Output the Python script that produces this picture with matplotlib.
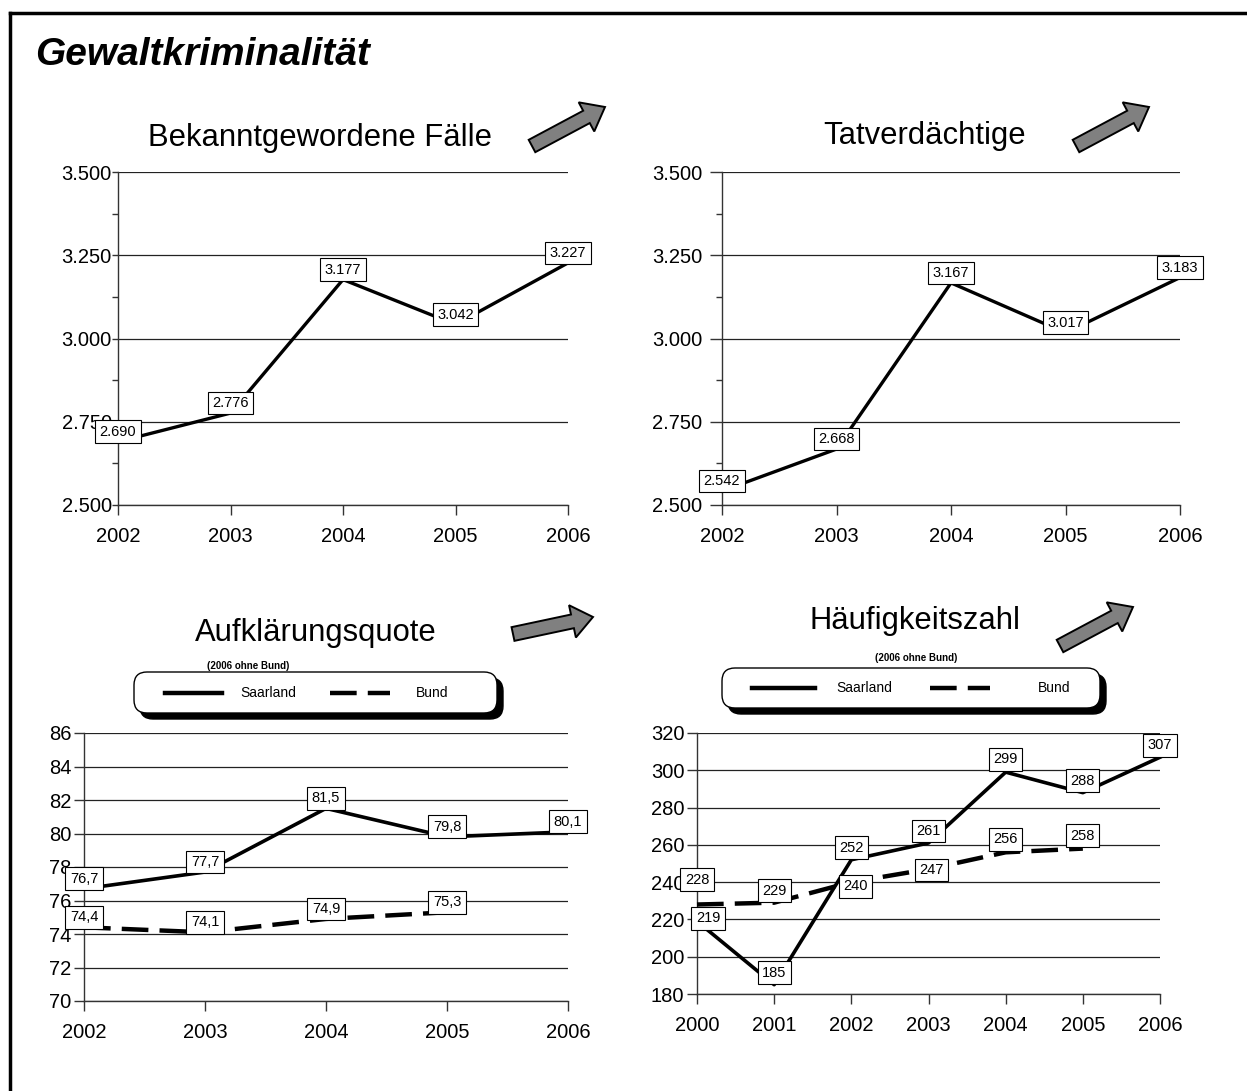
import matplotlib.pyplot as plt
from matplotlib.lines import Line2D
from matplotlib.patches import FancyArrow, FancyBboxPatch
from matplotlib.ticker import FuncFormatter, MultipleLocator

plt.rcParams["font.family"] = ["Liberation Sans", "DejaVu Sans"]

W, H = 1247, 1091

# --- data ---
YEARS_TOP = [2002, 2003, 2004, 2005, 2006]
FAELLE = [2690, 2776, 3177, 3042, 3227]
TATVERD = [2542, 2668, 3167, 3017, 3183]

YEARS_AQ = [2002, 2003, 2004, 2005, 2006]
AQ_SAAR = [76.7, 77.7, 81.5, 79.8, 80.1]
AQ_BUND = [74.4, 74.1, 74.9, 75.3]

YEARS_HZ = [2000, 2001, 2002, 2003, 2004, 2005, 2006]
HZ_SAAR = [219, 185, 252, 261, 299, 288, 307]
HZ_BUND = [228, 229, 240, 247, 256, 258]

# label offsets (pixels, up positive) for the Häufigkeitszahl chart
HZ_SAAR_OFF = [(11, 3), (0, 12), (0, 12), (0, 12), (0, 13), (0, 12), (0, 12)]
HZ_BUND_OFF = [(0, 25), (0, 12), (4, -4), (3, -1), (0, 13), (0, 13)]

DASH = (0, (6, 2.5))

fig = plt.figure(figsize=(W / 100, H / 100), dpi=100)


def px(x, y):
    return x / 100, (H - y) / 100


def add_axes(x0, y0, x1, y1):
    return fig.add_axes([x0 / W, 1 - y1 / H, (x1 - x0) / W, (y1 - y0) / H])


def de_thousands(v, _pos):
    return f"{v:,.0f}".replace(",", ".")


def de_decimal(v):
    return f"{v:.1f}".replace(".", ",")


def style_axes(ax, xs, ylim, ystep, fmt=None, minor=None, ylen=7, ypad=2):
    ax.set_xlim(xs[0], xs[-1])
    ax.set_ylim(*ylim)
    ax.set_xticks(xs)
    ax.yaxis.set_major_locator(MultipleLocator(ystep))
    if minor:
        ax.yaxis.set_minor_locator(MultipleLocator(minor))
    if fmt:
        ax.yaxis.set_major_formatter(FuncFormatter(fmt))
    for side in ("top", "right"):
        ax.spines[side].set_visible(False)
    for side in ("left", "bottom"):
        ax.spines[side].set_color("#333333")
        ax.spines[side].set_linewidth(1.0)
    ax.grid(axis="y", color="#222222", linewidth=0.9)
    ax.set_axisbelow(True)
    ax.tick_params(axis="both", which="major", labelsize=14.5, width=1.0, color="#333333")
    ax.tick_params(axis="y", which="major", pad=ypad, length=ylen)
    ax.tick_params(axis="x", which="major", pad=9, length=7)
    ax.tick_params(axis="y", which="minor", length=4, width=1.0, color="#333333")


def label(ax, x, y, text, dx=0, dy=10):
    ax.annotate(text, (x, y), xytext=(dx, dy), textcoords="offset pixels",
                ha="center", va="center", fontsize=10.5, zorder=5,
                bbox=dict(boxstyle="square,pad=0.3", fc="white", ec="black", lw=0.8))


def arrow(tail, tip):
    x0, y0 = px(*tail)
    x1, y1 = px(*tip)
    fig.patches.append(FancyArrow(x0, y0, x1 - x0, y1 - y0, width=0.14, head_width=0.33,
                                  head_length=0.21, length_includes_head=True,
                                  fc="#808080", ec="black", lw=1.4,
                                  transform=fig.dpi_scale_trans, figure=fig))


def title(x, y, text):
    fig.text(*px(x, y), text, transform=fig.dpi_scale_trans,
             ha="center", va="center", fontsize=22.3)


def legend_box(x0, y0, x1, y1, sub_xy, items):
    for off, fc in ((6, "black"), (0, "white")):
        bx, by = px(x0 + off, y1 + off)
        fig.patches.append(FancyBboxPatch((bx, by), (x1 - x0) / 100, (y1 - y0) / 100,
                                          boxstyle="round,pad=0,rounding_size=0.13",
                                          fc=fc, ec="black", lw=1.0,
                                          transform=fig.dpi_scale_trans, figure=fig))
    fig.text(*px(*sub_xy), "(2006 ohne Bund)", transform=fig.dpi_scale_trans,
             ha="center", va="center", fontsize=7, fontweight="bold")
    for (lx0, lx1, ly), ls, name, tx in items:
        a, b = px(lx0, ly)
        c, _ = px(lx1, ly)
        fig.lines.append(Line2D([a, c], [b, b], color="black", lw=3.2, linestyle=ls,
                                transform=fig.dpi_scale_trans, figure=fig))
        fig.text(*px(tx, ly), name, transform=fig.dpi_scale_trans,
                 ha="center", va="center", fontsize=10)


# frame and main title
fig.lines.append(Line2D([10 / W, 10 / W], [1 - 13 / H, -0.1], color="black", lw=2.5,
                        transform=fig.transFigure, figure=fig))
fig.lines.append(Line2D([10 / W, 1.1], [1 - 13 / H, 1 - 13 / H], color="black", lw=2.5,
                        transform=fig.transFigure, figure=fig))
fig.text(*px(35, 55), "Gewaltkriminalität", transform=fig.dpi_scale_trans,
         ha="left", va="center", fontsize=28, fontweight="bold", fontstyle="italic")

# top-left: Bekanntgewordene Fälle
ax1 = add_axes(118, 172, 568, 505)
style_axes(ax1, YEARS_TOP, (2500, 3500), 250, de_thousands, 125, ylen=4, ypad=0.5)
ax1.plot(YEARS_TOP, FAELLE, color="black", lw=2.4, clip_on=False, zorder=3)
for x, v in zip(YEARS_TOP, FAELLE):
    label(ax1, x, v, de_thousands(v, None))
title(320, 138, "Bekanntgewordene Fälle")
arrow((532, 146), (605, 107))

# top-right: Tatverdächtige
ax2 = add_axes(722, 172, 1180, 505)
style_axes(ax2, YEARS_TOP, (2500, 3500), 250, de_thousands, 125, ylen=9, ypad=5)
ax2.plot(YEARS_TOP, TATVERD, color="black", lw=2.4, clip_on=False, zorder=3)
for x, v in zip(YEARS_TOP, TATVERD):
    label(ax2, x, v, de_thousands(v, None))
title(925, 136, "Tatverdächtige")
arrow((1076, 146), (1149, 107))

# bottom-left: Aufklärungsquote
ax3 = add_axes(84, 733, 568, 1001)
style_axes(ax3, YEARS_AQ, (70, 86), 2)
ax3.plot(YEARS_AQ, AQ_SAAR, color="black", lw=2.6, clip_on=False, zorder=3)
ax3.plot(YEARS_AQ[:len(AQ_BUND)], AQ_BUND, color="black", lw=3.2, linestyle=DASH,
         clip_on=False, zorder=3)
for x, v in zip(YEARS_AQ, AQ_SAAR):
    label(ax3, x, v, de_decimal(v))
for x, v in zip(YEARS_AQ, AQ_BUND):
    label(ax3, x, v, de_decimal(v))
title(316, 633, "Aufklärungsquote")
arrow((513, 634), (593, 617))
legend_box(134, 672, 497, 713, (248, 666),
           [((165, 222, 693), "-", "Saarland", 268), ((330, 390, 693), DASH, "Bund", 432)])

# bottom-right: Häufigkeitszahl
ax4 = add_axes(697, 733, 1160, 994)
style_axes(ax4, YEARS_HZ, (180, 320), 20)
ax4.plot(YEARS_HZ, HZ_SAAR, color="black", lw=2.6, clip_on=False, zorder=3)
ax4.plot(YEARS_HZ[:len(HZ_BUND)], HZ_BUND, color="black", lw=3.2, linestyle=DASH,
         clip_on=False, zorder=3)
for x, v, (dx, dy) in zip(YEARS_HZ, HZ_SAAR, HZ_SAAR_OFF):
    label(ax4, x, v, str(v), dx, dy)
for x, v, (dx, dy) in zip(YEARS_HZ, HZ_BUND, HZ_BUND_OFF):
    label(ax4, x, v, str(v), dx, dy)
title(915, 621, "Häufigkeitszahl")
arrow((1060, 646), (1133, 607))
legend_box(722, 668, 1100, 708, (916, 658),
           [((752, 815, 688), "-", "Saarland", 864), ((930, 990, 688), DASH, "Bund", 1054)])

fig.savefig("out.png", dpi=100)
